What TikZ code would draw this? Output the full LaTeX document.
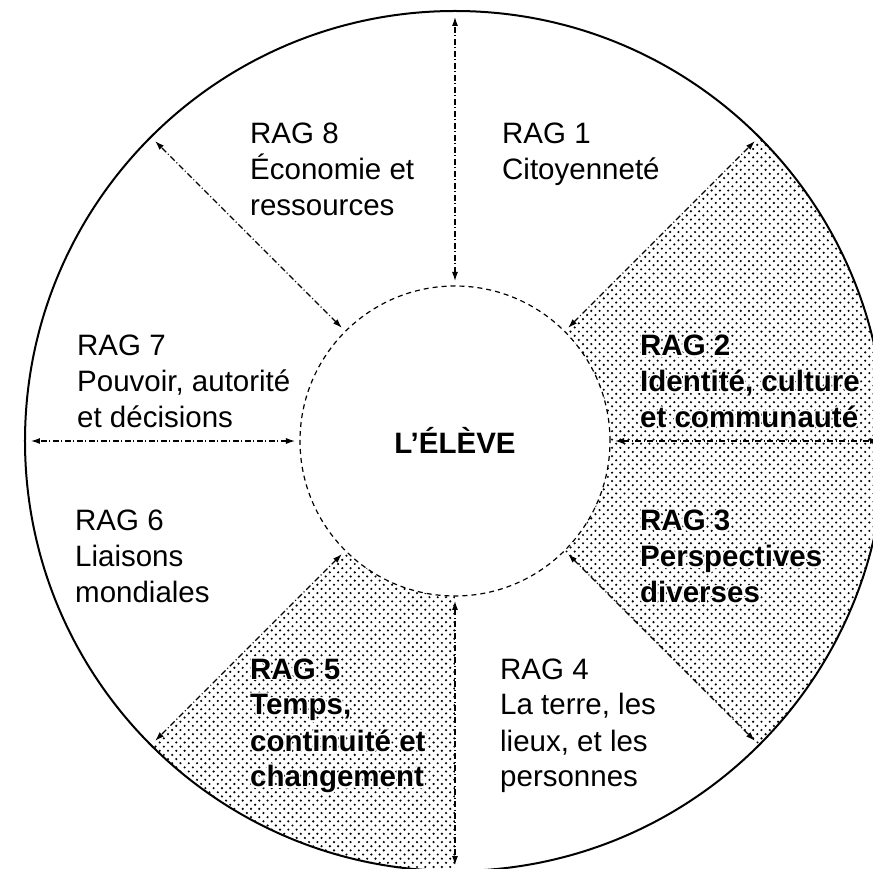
\documentclass[tikz,border=0pt]{standalone}
\usepackage{fontspec}
\setmainfont{Liberation Sans}
\usetikzlibrary{patterns.meta,arrows.meta}
\tikzdeclarepattern{name=rdots,type=uncolored,bottom left={(-.1pt,-.1pt)},top right={(8.4pt,8.4pt)},tile size={(8.3pt,8.3pt)},code={\fill (2pt,2pt) circle (1.2pt); \fill (6.15pt,6.15pt) circle (1.2pt);}}
\newcommand\halotxt[1]{\leavevmode\rlap{\color{white}\rlap{\kern-1.6pt#1}\rlap{\kern1.6pt#1}\rlap{\raisebox{1.6pt}{#1}}\rlap{\raisebox{-1.6pt}{#1}}\rlap{\kern-1.1pt\raisebox{1.1pt}{#1}}\rlap{\kern1.1pt\raisebox{1.1pt}{#1}}\rlap{\kern-1.1pt\raisebox{-1.1pt}{#1}}\rlap{\kern1.1pt\raisebox{-1.1pt}{#1}}}#1}
\begin{document}
\begin{tikzpicture}[x=1pt,y=1pt,
  rag/.style={anchor=base west,align=left,font=\fontsize{29.5}{36}\selectfont,inner sep=0pt},
  ragb/.style={rag,font=\fontsize{29.5}{36}\selectfont\bfseries},
  spoke/.style={line width=1.1pt,dash pattern=on 6pt off 2.5pt on 1pt off 2.5pt,{Latex[length=9pt,width=6pt]}-{Latex[length=9pt,width=6pt]}},
  shade/.style={pattern={rdots},pattern color=black}]
\useasboundingbox (-455,-428) rectangle (418,441);
% shaded sectors
\fill[shade] (0:155) -- (0:430) arc (0:45:430) -- (45:155) arc (45:0:155) -- cycle;
\fill[shade] (-45:155) -- (-45:430) arc (-45:0:430) -- (0:155) arc (0:-45:155) -- cycle;
\fill[shade] (-135:155) -- (-135:430) arc (-135:-90:430) -- (-90:155) arc (-90:-135:155) -- cycle;
% circles
\node[circle,draw,line width=2pt,minimum size=860pt,inner sep=0pt] (outer) at (0,0) {};
\node[circle,draw,line width=1.2pt,dash pattern=on 5pt off 4pt,minimum size=310pt,inner sep=0pt] (inner) at (0,0) {};
% spokes
\foreach \a in {90,45,0,-45,-90,-135,180,135}{
  \coordinate (i\a) at (\a:160);
  \coordinate (o\a) at (\a:424);
  \draw[spoke] (i\a) -- (o\a);
}
% texts (anchor = baseline of last line)
\node[rag] (r8) at (-205,225) {RAG 8\\Économie et\\ressources};
\node[rag] (r1) at (47,261) {RAG 1\\Citoyenneté};
\node[rag] (r7) at (-378,13) {RAG 7\\Pouvoir, autorité\\et décisions};
\node[ragb] (r2) at (185,13) {\halotxt{RAG 2}\\\halotxt{Identité, culture}\\\halotxt{et communauté}};
\node[font=\fontsize{29.5}{36}\selectfont\bfseries,anchor=base,inner sep=0pt] (el) at (0,-13) {L’ÉLÈVE};
\node[rag] (r6) at (-380,-162) {RAG 6\\Liaisons\\mondiales};
\node[ragb] (r3) at (185,-162) {\halotxt{RAG 3}\\\halotxt{Perspectives}\\\halotxt{diverses}};
\node[ragb] (r5) at (-205,-346) {\halotxt{RAG 5}\\\halotxt{Temps,}\\\halotxt{continuité et}\\\halotxt{changement}};
\node[rag] (r4) at (45,-346) {RAG 4\\La terre, les\\lieux, et les\\personnes};
\end{tikzpicture}
\end{document}
